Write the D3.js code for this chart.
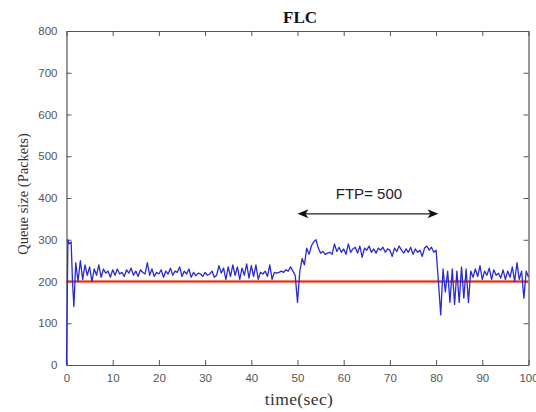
<!DOCTYPE html>
<html><head><meta charset="utf-8">
<script src="https://cdn.jsdelivr.net/npm/d3@7/dist/d3.min.js"></script>
<style>body{margin:0;background:#fff}</style>
</head><body>
<svg id="c" width="536" height="412"></svg>
<script>
const title = "FLC";
const xLabel = "time(sec)";
const yLabel = "Queue size (Packets)";
const xTicks = [0,10,20,30,40,50,60,70,80,90,100];
const yTicks = [0,100,200,300,400,500,600,700,800];
const referenceQueue = 200;
const annotationText = "FTP= 500";
const annotationSpan = [50, 80.5];
const annotationLevel = 362;
const queue = [
[0,0],[0.3,300],[0.6,290],[1,295],[1.3,200],[1.6,140],[2,245],[2.5,200],[3,250],[3.5,205],
[4,240],[4.5,215],[5,235],[5.5,200],[6,230],[6.5,215],[7,240],[7.5,210],[8,230],[8.5,220],
[9,225],[9.5,210],[10,228],[10.5,215],[11,230],[11.5,218],[12,222],[12.5,212],[13,228],[13.5,220],
[14,232],[14.5,215],[15,225],[15.5,212],[16,228],[16.5,222],[17,218],[17.5,245],[18,215],[18.5,230],
[19,212],[19.5,222],[20,218],[20.5,228],[21,210],[21.5,225],[22,218],[22.5,232],[23,215],[23.5,225],
[24,222],[24.5,235],[25,212],[25.5,225],[26,218],[26.5,230],[27,210],[27.5,222],[28,214],[28.5,220],
[29,218],[29.5,212],[30,222],[30.5,215],[31,218],[31.5,225],[32,210],[32.5,215],[33,238],[33.5,220],
[34,232],[34.5,205],[35,235],[35.5,212],[36,240],[36.5,215],[37,235],[37.5,205],[38,232],[38.5,215],
[39,242],[39.5,208],[40,238],[40.5,212],[41,240],[41.5,205],[42,222],[42.5,218],[43,225],[43.5,212],
[44,240],[44.5,205],[45,222],[45.5,220],[46,222],[46.5,225],[47,222],[47.5,228],[48,225],[48.5,235],
[49,225],[49.5,215],[50,150],[50.5,225],[51,255],[51.5,240],[52,280],[52.5,265],[53,285],[53.5,295],
[54,300],[54.5,280],[55,268],[55.5,272],[56,265],[56.5,268],[57,270],[57.5,265],[58,290],[58.5,272],
[59,282],[59.5,270],[60,278],[60.5,265],[61,290],[61.5,270],[62,278],[62.5,282],[63,268],[63.5,285],
[64,258],[64.5,280],[65,275],[65.5,285],[66,270],[66.5,278],[67,268],[67.5,280],[68,275],[68.5,282],
[69,270],[69.5,278],[70,275],[70.5,260],[71,280],[71.5,272],[72,285],[72.5,275],[73,268],[73.5,278],
[74,270],[74.5,282],[75,265],[75.5,278],[76,270],[76.5,275],[77,260],[77.5,280],[78,285],[78.5,275],
[79,282],[79.5,270],[80,275],[80.5,200],[81,120],[81.5,230],[82,175],[82.5,225],[83,150],[83.5,230],
[84,145],[84.5,225],[85,150],[85.5,235],[86,160],[86.5,230],[87,150],[87.5,225],[88,210],[88.5,230],
[89,212],[89.5,238],[90,205],[90.5,225],[91,215],[91.5,232],[92,205],[92.5,228],[93,215],[93.5,220],
[94,208],[94.5,228],[95,205],[95.5,225],[96,210],[96.5,235],[97,200],[97.5,245],[98,205],[98.5,225],
[99,160],[99.5,225],[100,210]
];

const svg = d3.select("#c");
const m = {l:66.5, t:31, r:528.5, b:365};
const x = d3.scaleLinear().domain([0,100]).range([m.l, m.r]);
const y = d3.scaleLinear().domain([0,800]).range([m.b, m.t]);
const axisColor = "#555";
const sans = "Liberation Sans, Arial, sans-serif";
const serif = "Liberation Serif, Times New Roman, serif";

// axes with inward ticks on all sides
const tl = 5;
const gx = svg.append("g").attr("transform",`translate(0,${m.b})`)
  .call(d3.axisBottom(x).tickValues(xTicks).tickSizeInner(-tl).tickSizeOuter(0).tickPadding(9));
const gxt = svg.append("g").attr("transform",`translate(0,${m.t})`)
  .call(d3.axisTop(x).tickValues(xTicks).tickSizeInner(-tl).tickSizeOuter(0).tickFormat(""));
const gy = svg.append("g").attr("transform",`translate(${m.l},0)`)
  .call(d3.axisLeft(y).tickValues(yTicks).tickSizeInner(-tl).tickSizeOuter(0).tickPadding(9));
const gyr = svg.append("g").attr("transform",`translate(${m.r},0)`)
  .call(d3.axisRight(y).tickValues(yTicks).tickSizeInner(-tl).tickSizeOuter(0).tickFormat(""));
[gx,gxt,gy,gyr].forEach(g=>{
  g.select(".domain").attr("stroke",axisColor).attr("stroke-width",1.2);
  g.selectAll(".tick line").attr("stroke",axisColor);
  g.selectAll(".tick text").attr("fill","#555").attr("font-family",sans).attr("font-size",11.5);
});

// reference line
svg.append("line").attr("x1",x(0)).attr("x2",x(100)).attr("y1",y(referenceQueue)).attr("y2",y(referenceQueue))
  .attr("stroke","#f4b47a").attr("stroke-width",3.5).attr("opacity",0.5);
svg.append("line").attr("x1",x(0)).attr("x2",x(100)).attr("y1",y(referenceQueue)).attr("y2",y(referenceQueue))
  .attr("stroke","#e8291c").attr("stroke-width",1.8);

// queue line
svg.append("path").datum(queue)
  .attr("d", d3.line().x(d=>x(d[0])).y(d=>y(d[1])))
  .attr("fill","none").attr("stroke","#2a2ad2").attr("stroke-width",1.3).attr("stroke-linejoin","round");

// annotation
const ax0 = x(annotationSpan[0]), ax1 = x(annotationSpan[1]), ay = y(annotationLevel);
svg.append("line").attr("x1",ax0+4).attr("x2",ax1-4).attr("y1",ay).attr("y2",ay)
  .attr("stroke","#222").attr("stroke-width",1.2);
svg.append("path").attr("d",`M${ax0},${ay} L${ax0+11},${ay-4.5} L${ax0+8},${ay} L${ax0+11},${ay+4.5} Z`).attr("fill","#111");
svg.append("path").attr("d",`M${ax1},${ay} L${ax1-11},${ay-4.5} L${ax1-8},${ay} L${ax1-11},${ay+4.5} Z`).attr("fill","#111");
svg.append("text").attr("x",(ax0+ax1)/2+1).attr("y",ay-15)
  .attr("text-anchor","middle").attr("font-family",sans).attr("font-size",15)
  .attr("fill","#222").text(annotationText);

// labels
svg.append("text").attr("x",300).attr("y",23).attr("text-anchor","middle")
  .attr("font-family",serif).attr("font-weight","bold").attr("font-size",17)
  .attr("fill","#111").text(title);
svg.append("text").attr("x",299).attr("y",405).attr("text-anchor","middle")
  .attr("font-family",serif).attr("font-size",17.5).attr("letter-spacing",0.4)
  .attr("fill","#333").text(xLabel);
svg.append("text").attr("transform",`translate(23,194) rotate(-90)`).attr("text-anchor","middle")
  .attr("dy","0.35em")
  .attr("font-family",serif).attr("font-size",14.5)
  .attr("fill","#333").text(yLabel);
</script>
</body></html>
